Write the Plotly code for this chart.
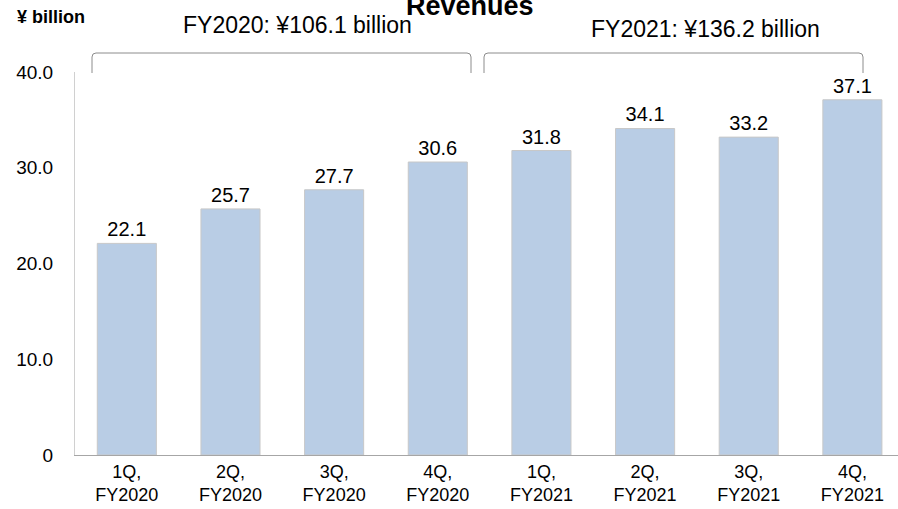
import plotly.graph_objects as go

categories = ["1Q,<br>FY2020", "2Q,<br>FY2020", "3Q,<br>FY2020", "4Q,<br>FY2020",
              "1Q,<br>FY2021", "2Q,<br>FY2021", "3Q,<br>FY2021", "4Q,<br>FY2021"]
revenues = [22.1, 25.7, 27.7, 30.6, 31.8, 34.1, 33.2, 37.1]
y_ticks = [0, 10, 20, 30, 40]
y_tick_labels = ["0", "10.0", "20.0", "30.0", "40.0"]

W, H = 898, 509
ML, MR, MT, MB = 75, 0, 72, 54
ph = H - MT - MB

def py(p):
    return (H - MB - p) / ph

def pxx(p):
    return (p - ML) / (W - ML - MR)

FONT = "Liberation Sans, Arial, sans-serif"

fig = go.Figure()
fig.add_trace(go.Bar(
    x=list(range(len(categories))), y=revenues,
    width=0.57,
    marker=dict(color="#B9CDE5", line=dict(color="#C8C8C8", width=1)),
    text=[f"{v:.1f}" for v in revenues], textposition="outside",
    textfont=dict(family=FONT, size=20, color="#000000"),
    cliponaxis=False,
))

fig.update_layout(
    width=W, height=H,
    margin=dict(l=ML, r=MR, t=MT, b=MB, autoexpand=False),
    plot_bgcolor="white", paper_bgcolor="white",
    showlegend=False,
    font=dict(family=FONT, color="#000000"),
    xaxis=dict(
        range=[-0.5, 7.44], tickmode="array",
        tickvals=list(range(len(categories))), ticktext=categories,
        showgrid=False, showline=True, linecolor="#A6A6A6", linewidth=1,
        ticks="", tickfont=dict(size=18, family=FONT, color="#000000"),
        ticklabelstandoff=0, zeroline=False,
    ),
    yaxis=dict(
        range=[0, 40], tickmode="array", tickvals=y_ticks, ticktext=y_tick_labels,
        showgrid=False, showline=True, linecolor="#D0D0D0", linewidth=1,
        ticks="", tickfont=dict(size=19, family=FONT, color="#000000"),
        ticklabelstandoff=17, zeroline=False,
    ),
)

annotations = [
    dict(text="<b>Revenues</b>", x=470, y=6, font_size=27),
    dict(text="<b>¥ billion</b>", x=51, y=17, font_size=18),
    dict(text="FY2020: ¥106.1 billion", x=297, y=25, font_size=23),
    dict(text="FY2021: ¥136.2 billion", x=705, y=29, font_size=23),
]
for a in annotations:
    fig.add_annotation(text=a["text"], xref="paper", yref="paper",
                       x=pxx(a["x"]), y=py(a["y"]),
                       xanchor="center", yanchor="middle", showarrow=False,
                       font=dict(family=FONT, size=a["font_size"], color="#000000"))

def px_path(x0, x1, ytop, ybot):
    r = 4
    pts = [
        ("M", x0, ybot), ("L", x0, ytop + r), ("Q", x0, ytop, x0 + r, ytop),
        ("L", x1 - r, ytop), ("Q", x1, ytop, x1, ytop + r), ("L", x1, ybot),
    ]
    s = []
    for p in pts:
        if p[0] == "Q":
            s.append(f"Q {pxx(p[1])},{py(p[2])} {pxx(p[3])},{py(p[4])}")
        else:
            s.append(f"{p[0]} {pxx(p[1])},{py(p[2])}")
    return " ".join(s)

for (x0, x1) in [(92, 471), (484, 863)]:
    fig.add_shape(type="path", xref="paper", yref="paper",
                  path=px_path(x0, x1, 53, 73),
                  line=dict(color="#8C8C8C", width=1))

fig.write_html("out.html")
